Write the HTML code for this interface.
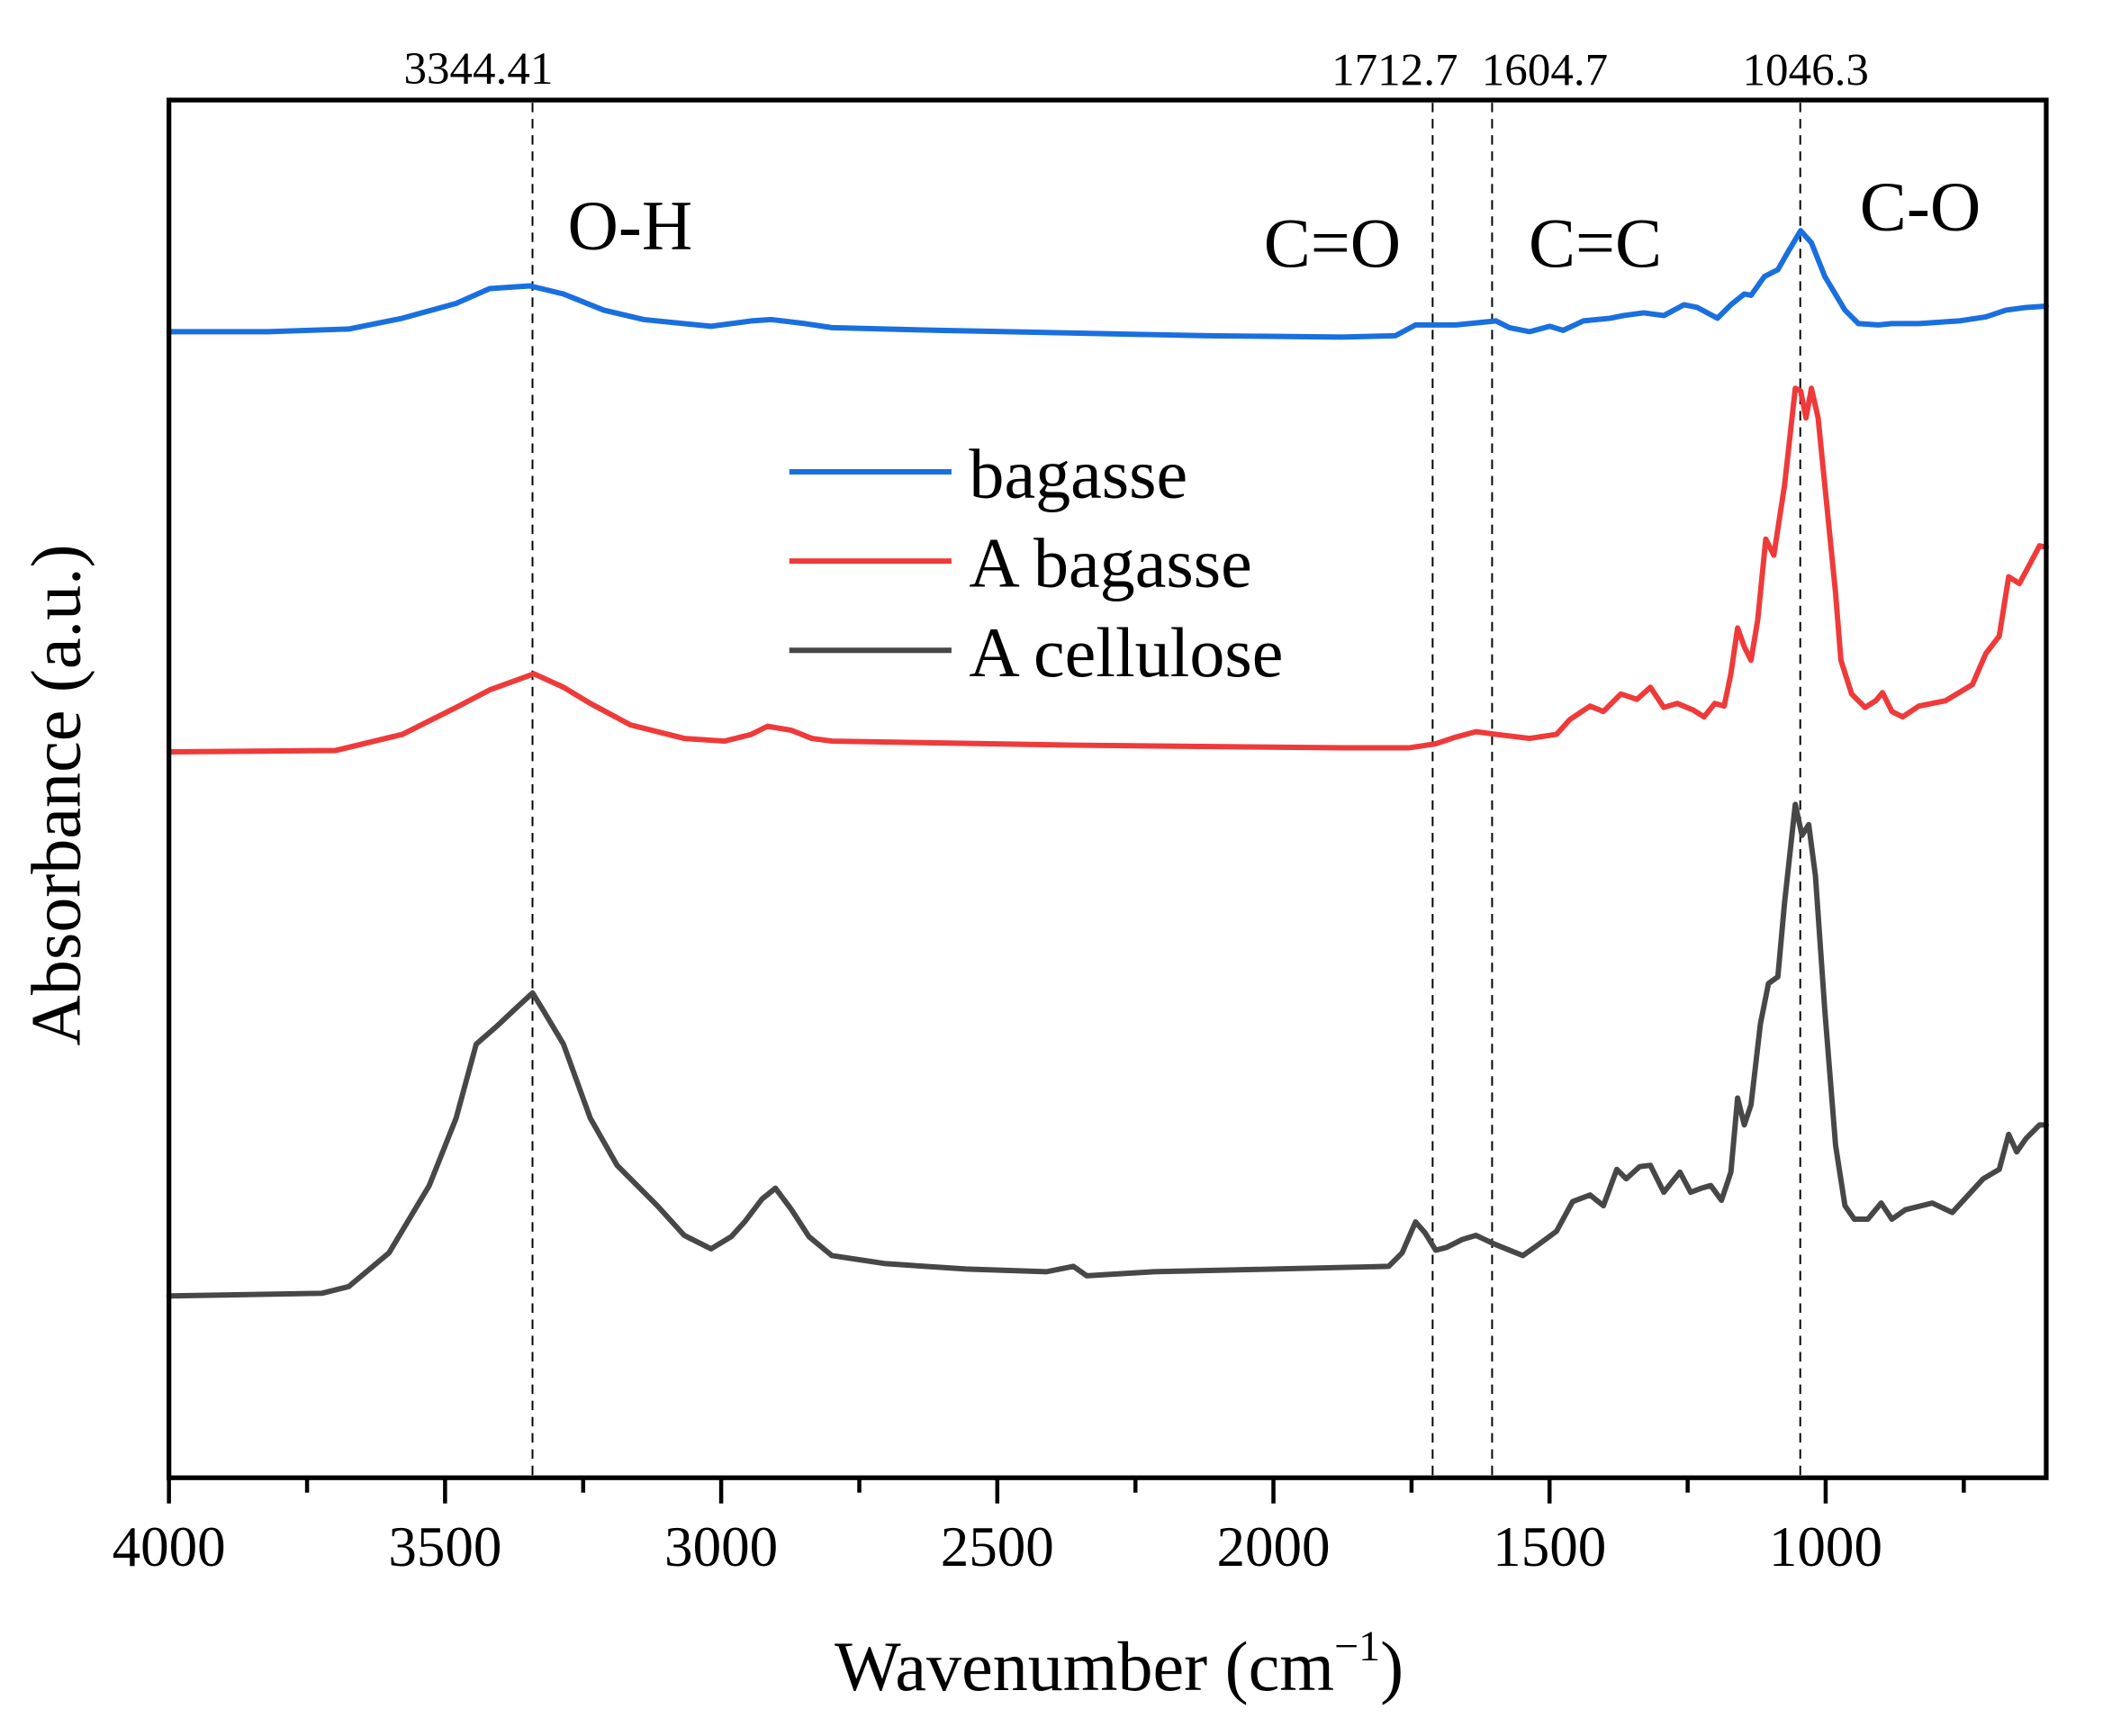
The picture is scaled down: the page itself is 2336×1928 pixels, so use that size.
<!DOCTYPE html>
<html><head><meta charset="utf-8"><style>
html,body{margin:0;padding:0;background:#fff;}
svg{display:block;}
text{font-family:"Liberation Serif","Times New Roman",serif;fill:#000;}
</style></head><body>
<svg width="2336" height="1928" viewBox="0 0 1556 1284" preserveAspectRatio="none" xmlns="http://www.w3.org/2000/svg">
<rect width="1556" height="1284" fill="#fff"/>
<g stroke="#000" stroke-width="1.3" stroke-dasharray="7,5">
<line x1="394" y1="76" x2="394" y2="1092"/>
<line x1="1060" y1="76" x2="1060" y2="1092"/>
<line x1="1104" y1="76" x2="1104" y2="1092"/>
<line x1="1332" y1="76" x2="1332" y2="1092"/>
</g>
<g transform="matrix(0.99285 0 0 0.9961 -0.1 0.29)" fill="none" stroke-width="4" stroke-linejoin="round" stroke-linecap="round">
<polyline stroke="#1a6fdf" points="126,246 200,246 260,244 300,236 340,225 365,214 395,212 420,218 450,230 480,237 530,242 560,238 575,237 600,240 620,243 700,245 800,247 900,249 1000,250 1040,249 1055,241 1085,241 1115,238 1125,243 1140,246 1155,242 1165,245 1180,238 1200,236 1210,234 1225,232 1240,234 1255,226 1265,228 1280,236 1290,226 1300,218 1305,219 1315,205 1325,200 1333,186 1342,171 1350,180 1360,205 1375,230 1385,240 1400,241 1410,240 1430,240 1460,238 1480,235 1495,230 1510,228 1525,227"/>
<polyline stroke="#ef3a3a" points="126,558 250,557 300,545 340,525 365,512 398,500 420,510 440,522 470,538 510,548 540,550 560,545 572,539 590,542 605,548 620,550 800,553 1000,555 1050,555 1070,552 1085,547 1100,543 1115,545 1140,548 1160,545 1170,534 1185,524 1195,528 1208,515 1220,519 1230,510 1240,525 1250,522 1262,527 1270,532 1278,522 1285,524 1290,500 1295,466 1300,480 1305,490 1310,460 1316,400 1322,412 1330,360 1338,288 1342,290 1346,310 1350,288 1355,310 1362,380 1368,440 1372,490 1380,515 1390,525 1398,520 1403,514 1410,528 1418,532 1430,524 1450,520 1470,508 1480,485 1490,472 1497,428 1505,433 1512,420 1520,405 1525,406"/>
<polyline stroke="#474747" points="126,962 240,960 260,955 290,930 320,880 340,830 355,775 370,762 385,748 397,737 405,750 420,775 440,830 460,865 490,895 510,917 530,927 545,918 555,907 568,890 578,882 590,898 603,918 620,932 660,938 720,942 780,944 800,940 810,947 860,944 950,942 1035,940 1045,930 1055,907 1062,915 1070,928 1078,926 1090,920 1100,917 1115,924 1135,932 1145,925 1160,914 1172,892 1185,887 1195,895 1205,868 1212,875 1222,866 1230,865 1240,885 1252,870 1260,885 1268,882 1275,880 1283,891 1290,870 1295,815 1300,835 1305,820 1312,760 1318,730 1325,725 1330,670 1338,597 1343,620 1348,612 1353,650 1360,750 1368,850 1375,895 1382,905 1392,905 1402,893 1410,905 1420,898 1440,893 1455,900 1478,875 1490,868 1497,842 1503,855 1510,845 1520,835 1525,835"/>
</g>
<rect x="125" y="74" width="1389" height="1019" fill="none" stroke="#000" stroke-width="3.5"/>
<g stroke="#000" stroke-width="3">
<line x1="125" y1="1093" x2="125" y2="1112"/>
<line x1="329.3" y1="1093" x2="329.3" y2="1112"/>
<line x1="533.6" y1="1093" x2="533.6" y2="1112"/>
<line x1="737.9" y1="1093" x2="737.9" y2="1112"/>
<line x1="942.2" y1="1093" x2="942.2" y2="1112"/>
<line x1="1146.5" y1="1093" x2="1146.5" y2="1112"/>
<line x1="1350.8" y1="1093" x2="1350.8" y2="1112"/>
<line x1="227.2" y1="1093" x2="227.2" y2="1104"/>
<line x1="431.5" y1="1093" x2="431.5" y2="1104"/>
<line x1="635.8" y1="1093" x2="635.8" y2="1104"/>
<line x1="840.1" y1="1093" x2="840.1" y2="1104"/>
<line x1="1044.4" y1="1093" x2="1044.4" y2="1104"/>
<line x1="1248.7" y1="1093" x2="1248.7" y2="1104"/>
<line x1="1453" y1="1093" x2="1453" y2="1104"/>
</g>
<g font-size="42" text-anchor="middle">
<text x="125" y="1158">4000</text>
<text x="329.3" y="1158">3500</text>
<text x="533.6" y="1158">3000</text>
<text x="737.9" y="1158">2500</text>
<text x="942.2" y="1158">2000</text>
<text x="1146.5" y="1158">1500</text>
<text x="1350.8" y="1158">1000</text>
</g>
<text x="828" y="1250" font-size="52" text-anchor="middle">Wavenumber (cm<tspan font-size="32" dy="-22">−1</tspan><tspan dy="22">)</tspan></text>
<text transform="translate(59,588) rotate(-90)" font-size="52" text-anchor="middle">Absorbance (a.u.)</text>
<g font-size="34" text-anchor="middle">
<text x="354" y="62">3344.41</text>
<text x="1032" y="63">1712.7</text>
<text x="1143" y="63">1604.7</text>
<text x="1336" y="63">1046.3</text>
</g>
<g font-size="52">
<text x="420" y="184">O-H</text>
<text x="935" y="197">C=O</text>
<text x="1131" y="197">C=C</text>
<text x="1376" y="170">C-O</text>
</g>
<g stroke-width="4">
<line x1="584" y1="349" x2="704" y2="349" stroke="#1a6fdf"/>
<line x1="584" y1="415" x2="704" y2="415" stroke="#ef3a3a"/>
<line x1="584" y1="481" x2="704" y2="481" stroke="#474747"/>
</g>
<g font-size="52">
<text x="717" y="368">bagasse</text>
<text x="717" y="434">A bagasse</text>
<text x="717" y="500">A cellulose</text>
</g>
</svg>
</body></html>
